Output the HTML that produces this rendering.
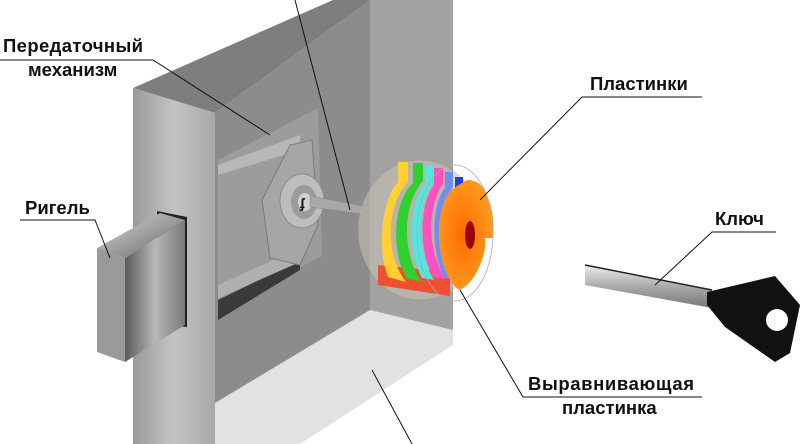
<!DOCTYPE html>
<html><head><meta charset="utf-8"><style>
html,body{margin:0;padding:0;background:#fff;}
svg{display:block;}
text{font-family:"Liberation Sans",sans-serif;font-weight:bold;font-size:18.5px;fill:#111;}
</style></head><body>
<svg width="803" height="444" viewBox="0 0 803 444" xmlns="http://www.w3.org/2000/svg">
<defs>
<linearGradient id="pil" x1="0" x2="1" y1="0" y2="0"><stop offset="0" stop-color="#9a9a9a"/><stop offset="0.5" stop-color="#c4c4c4"/><stop offset="1" stop-color="#a8a8a8"/></linearGradient>
<linearGradient id="bolt" x1="0" x2="1"><stop offset="0" stop-color="#5a5a5a"/><stop offset="0.5" stop-color="#b8b8b8"/><stop offset="1" stop-color="#7a7a7a"/></linearGradient>
<linearGradient id="bside" x1="0" x2="1" y1="0" y2="1"><stop offset="0" stop-color="#d8d8d8"/><stop offset="1" stop-color="#666"/></linearGradient>
<radialGradient id="or" cx="0.45" cy="0.5" r="0.6"><stop offset="0" stop-color="#ff6a00"/><stop offset="1" stop-color="#ffa020"/></radialGradient>
<linearGradient id="keysh" x1="0" x2="0" y1="0" y2="1"><stop offset="0" stop-color="#eee"/><stop offset="0.5" stop-color="#aaa"/><stop offset="1" stop-color="#777"/></linearGradient>
</defs>
<polygon points="215,403 370,310 453,330 453,345 300,444 215,444" fill="#e2e2e2"/>
<polygon points="370,0 453,0 453,330 370,310" fill="#a2a2a2"/>
<polygon points="133,88 333,0 370,0 215,113" fill="#7e7e7e"/>
<polygon points="215,113 370,0 370,310 215,403" fill="#8c8c8c"/>
<polygon points="218,160 318,108 322,256 218,310" fill="#9c9c9c"/>
<polygon points="218,165 300,135 300,150 218,175" fill="#b8b8b8"/>
<polygon points="218,300 300,260 300,270 218,320" fill="#3a3a3a"/>
<polygon points="218,285 300,248 300,262 218,298" fill="#b0b0b0"/>
<polygon points="262,200 290,145 312,140 318,225 300,265 270,258" fill="#a6a6a6" stroke="#7a7a7a"/>
<ellipse cx="302" cy="201" rx="22" ry="27" fill="#bdbdbd" stroke="#8a8a8a"/>
<ellipse cx="304" cy="202" rx="13" ry="17" fill="#9c9c9c"/>
<ellipse cx="305" cy="202" rx="7" ry="9" fill="#d0d0d0"/>
<text x="300" y="208" style="font-size:14px">ʄ</text>
<polygon points="310,196 362,206 362,214 310,207" fill="#a8a8a8" stroke="#888" stroke-width="0.5"/>
<polygon points="133,88 215,113 215,444 133,444" fill="url(#pil)"/>
<polygon points="157,211 187,217 187,327 157,325" fill="#222"/>
<polygon points="125,258 185,220 185,325 125,362" fill="url(#bolt)"/>
<polygon points="97,248 160,213 185,220 125,258" fill="url(#bside)"/>
<polygon points="97,248 125,258 125,362 97,352" fill="#9a9a9a"/>
<ellipse cx="420" cy="230" rx="62" ry="70" fill="#c9c4b8" opacity="0.55" stroke="#999" stroke-width="0.7"/>
<polygon points="378,265 450,272 450,296 378,285" fill="#f05030"/>
<path d="M398,162 h10 v20 c-20,20 -25,70 -2,100 l-18,-5 c-12,-30 -5,-80 10,-95z" fill="#ffd030"/>
<path d="M413,163 h10 v18 c-20,22 -22,70 -2,100 l-14,-2 c-18,-30 -12,-80 6,-96z" fill="#30d030"/>
<path d="M425,166 h9 v16 c-18,24 -18,68 0,98 l-12,-2 c-16,-30 -12,-78 3,-94z" fill="#50e8e0"/>
<path d="M434,168 h9 v15 c-16,25 -16,66 2,96 l-12,-2 c-16,-30 -12,-76 1,-92z" fill="#ff50c0"/>
<path d="M445,172 h8 v14 c-14,25 -14,63 3,94 l-12,-2 c-14,-30 -12,-74 1,-90z" fill="#7090f0"/>
<path d="M455,177 h8 v12 c-14,25 -14,60 3,90 l-12,-2 c-14,-30 -12,-72 1,-88z" fill="#2040e0"/>
<path d="M467,180 c8,0 14,4 16,8 c8,12 12,30 10,50 l-8,0 v10 c-4,20 -14,38 -26,42 c-14,-10 -22,-40 -20,-65 c2,-20 8,-32 14,-36 l4,-3z" fill="url(#or)"/>
<ellipse cx="470" cy="235" rx="5" ry="14" fill="#9a0000"/>
<ellipse cx="455" cy="233" rx="38" ry="68" fill="none" stroke="#aaa" stroke-width="0.8"/>
<polygon points="585,265 712,290 712,308 585,285" fill="url(#keysh)"/>
<line x1="585" y1="265" x2="712" y2="290" stroke="#222" stroke-width="1.5"/>
<polygon points="707,292 775,276 800,305 790,353 775,362 725,327 707,305" fill="#111"/>
<circle cx="777" cy="320" r="11" fill="#fff"/>
<g stroke="#111" stroke-width="1" fill="none">
<polyline points="0,60 153,60 270,135"/>
<polyline points="20,220 95,220 110,258"/>
<line x1="295" y1="0" x2="350" y2="210"/>
<polyline points="702,97 582,97 480,200"/>
<polyline points="776,232 712,232 655,285"/>
<polyline points="702,397 523,397 460,290"/>
<line x1="372" y1="370" x2="412" y2="444"/>
</g>
<text x="3" y="52" textLength="140">Передаточный</text>
<text x="28" y="76">механизм</text>
<text x="25" y="214">Ригель</text>
<text x="590" y="90">Пластинки</text>
<text x="715" y="225">Ключ</text>
<text x="528" y="390" textLength="166">Выравнивающая</text>
<text x="562" y="414">пластинка</text>
</svg>
</body></html>
